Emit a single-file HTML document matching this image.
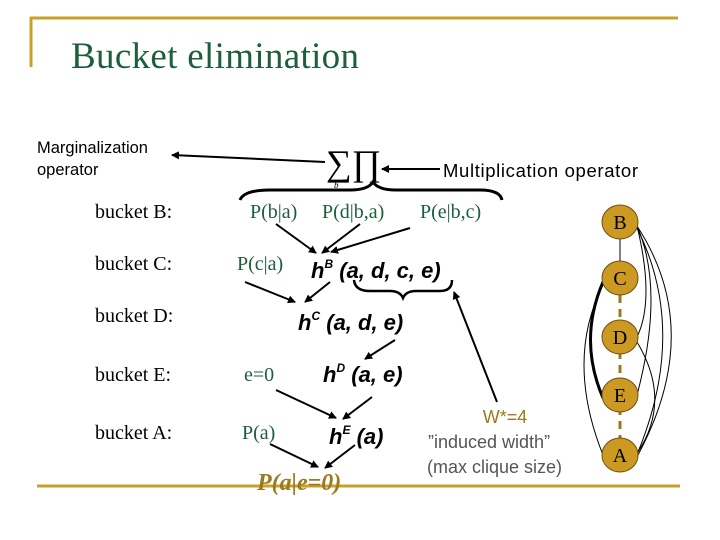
<!DOCTYPE html>
<html><head><style>body{margin:0;background:#fff}svg{display:block}</style></head><body>
<svg width="720" height="540" xmlns="http://www.w3.org/2000/svg">
<defs><marker id="ar" markerWidth="8" markerHeight="8" refX="7" refY="4" orient="auto" markerUnits="userSpaceOnUse"><path d="M0,0 L8,4 L0,8 z" fill="#000"/></marker></defs>
<g stroke="#c8a02a" stroke-width="3" fill="none">
<line x1="30" y1="18" x2="678" y2="18"/><line x1="31" y1="17" x2="31" y2="67"/>
<line x1="37" y1="486" x2="680" y2="486"/></g>
<text x="71" y="68" font-family="Liberation Serif" font-size="37" fill="#1d5e3c" textLength="288">Bucket elimination</text>
<g font-family="Liberation Sans" font-size="16.5" fill="#000">
<text x="37" y="153">Marginalization</text><text x="37" y="175">operator</text>
<text x="443" y="177" font-size="18.5" textLength="195">Multiplication operator</text></g>
<line x1="325" y1="162" x2="172" y2="155" stroke="#000" stroke-width="2" marker-end="url(#ar)"/>
<line x1="440" y1="169" x2="382" y2="169" stroke="#000" stroke-width="2" marker-end="url(#ar)"/>
<text x="326" y="175" font-family="Liberation Serif" font-size="36">∑∏</text>
<text x="334" y="188" font-family="Liberation Serif" font-size="9" font-style="italic">b</text>
<path d="M240,200 Q244,190 270,190 L350,190 Q368,190 373,182 Q378,190 396,190 L480,190 Q500,190 502,200" stroke="#000" stroke-width="3" fill="none"/>
<g font-family="Liberation Serif" font-size="20" fill="#000">
<text x="95" y="218">bucket  B:</text><text x="95" y="270">bucket  C:</text><text x="95" y="322">bucket  D:</text>
<text x="95" y="381">bucket  E:</text><text x="95" y="439">bucket  A:</text></g>
<g font-family="Liberation Serif" font-size="20" fill="#1d5e3c">
<text x="250" y="218">P(b|a)</text><text x="322" y="218">P(d|b,a)</text><text x="420" y="218">P(e|b,c)</text>
<text x="237" y="270">P(c|a)</text><text x="244" y="381">e=0</text><text x="242" y="439">P(a)</text></g>
<text x="257" y="490" font-family="Liberation Serif" font-size="24" font-style="italic" font-weight="bold" fill="#9a7a1e">P(a|e=0)</text>
<g font-family="Liberation Sans" font-size="22" font-weight="bold" font-style="italic" fill="#000">
<text x="311" y="278">h<tspan font-size="12" dy="-10">B</tspan><tspan dy="10"> (a, d, c, e)</tspan></text>
<text x="298" y="330">h<tspan font-size="12" dy="-10">C</tspan><tspan dy="10"> (a, d, e)</tspan></text>
<text x="323" y="382">h<tspan font-size="12" dy="-10">D</tspan><tspan dy="10"> (a, e)</tspan></text>
<text x="329" y="444">h<tspan font-size="12" dy="-10">E</tspan><tspan dy="10"> (a)</tspan></text></g>
<path d="M354,280 Q355,291 370,291 L390,291 Q400,291 403,298 Q406,291 416,291 L440,291 Q452,291 452,280" stroke="#000" stroke-width="2.5" fill="none"/>
<g stroke="#000" stroke-width="2" marker-end="url(#ar)">
<line x1="276" y1="224" x2="316" y2="253"/><line x1="360" y1="224" x2="322" y2="253"/><line x1="410" y1="228" x2="331" y2="252"/>
<line x1="245" y1="282" x2="295" y2="302"/><line x1="330" y1="282" x2="305" y2="302"/>
<line x1="395" y1="340" x2="365" y2="359"/>
<line x1="276" y1="390" x2="336" y2="418"/><line x1="372" y1="397" x2="343" y2="419"/>
<line x1="270" y1="444" x2="318" y2="467"/><line x1="355" y1="445" x2="325" y2="468"/>
<line x1="497" y1="402" x2="454" y2="292"/></g>
<text x="505" y="423" text-anchor="middle" font-family="Liberation Sans" font-size="18" fill="#9a7a1e">W*=4</text>
<text x="428" y="448" font-family="Liberation Sans" font-size="18" fill="#555">”induced width”</text>
<text x="427" y="473" font-family="Liberation Sans" font-size="18" fill="#555">(max clique size)</text>
<g fill="none" stroke="#000" stroke-width="1">
<line x1="620" y1="222" x2="620" y2="278"/>
<path d="M637,226 Q665,290 637,395"/><path d="M637,226 Q655,300 637,337"/>
<path d="M637,226 Q705,330 638,455"/><path d="M637,228 Q688,330 638,452"/>
<path d="M637,342 Q672,400 638,452"/>
<path d="M603,285 Q565,360 603,455"/>
<path d="M603,282 Q578,340 603,398" stroke-width="3"/></g>
<g stroke="#9a7a1e" stroke-width="3" stroke-dasharray="8,6"><line x1="620" y1="295" x2="620" y2="438"/></g>
<g fill="#cc9a22" stroke="#6a5010" stroke-width="1">
<ellipse cx="620" cy="222" rx="18" ry="17"/><ellipse cx="620" cy="278" rx="18" ry="17"/><ellipse cx="620" cy="337" rx="18" ry="17"/>
<ellipse cx="620" cy="395" rx="18" ry="17"/><ellipse cx="620" cy="455" rx="18" ry="17"/></g>
<g font-family="Liberation Serif" font-size="20" text-anchor="middle" fill="#000">
<text x="620" y="229">B</text><text x="620" y="285">C</text><text x="620" y="344">D</text><text x="620" y="402">E</text><text x="620" y="462">A</text></g>
</svg></body></html>
